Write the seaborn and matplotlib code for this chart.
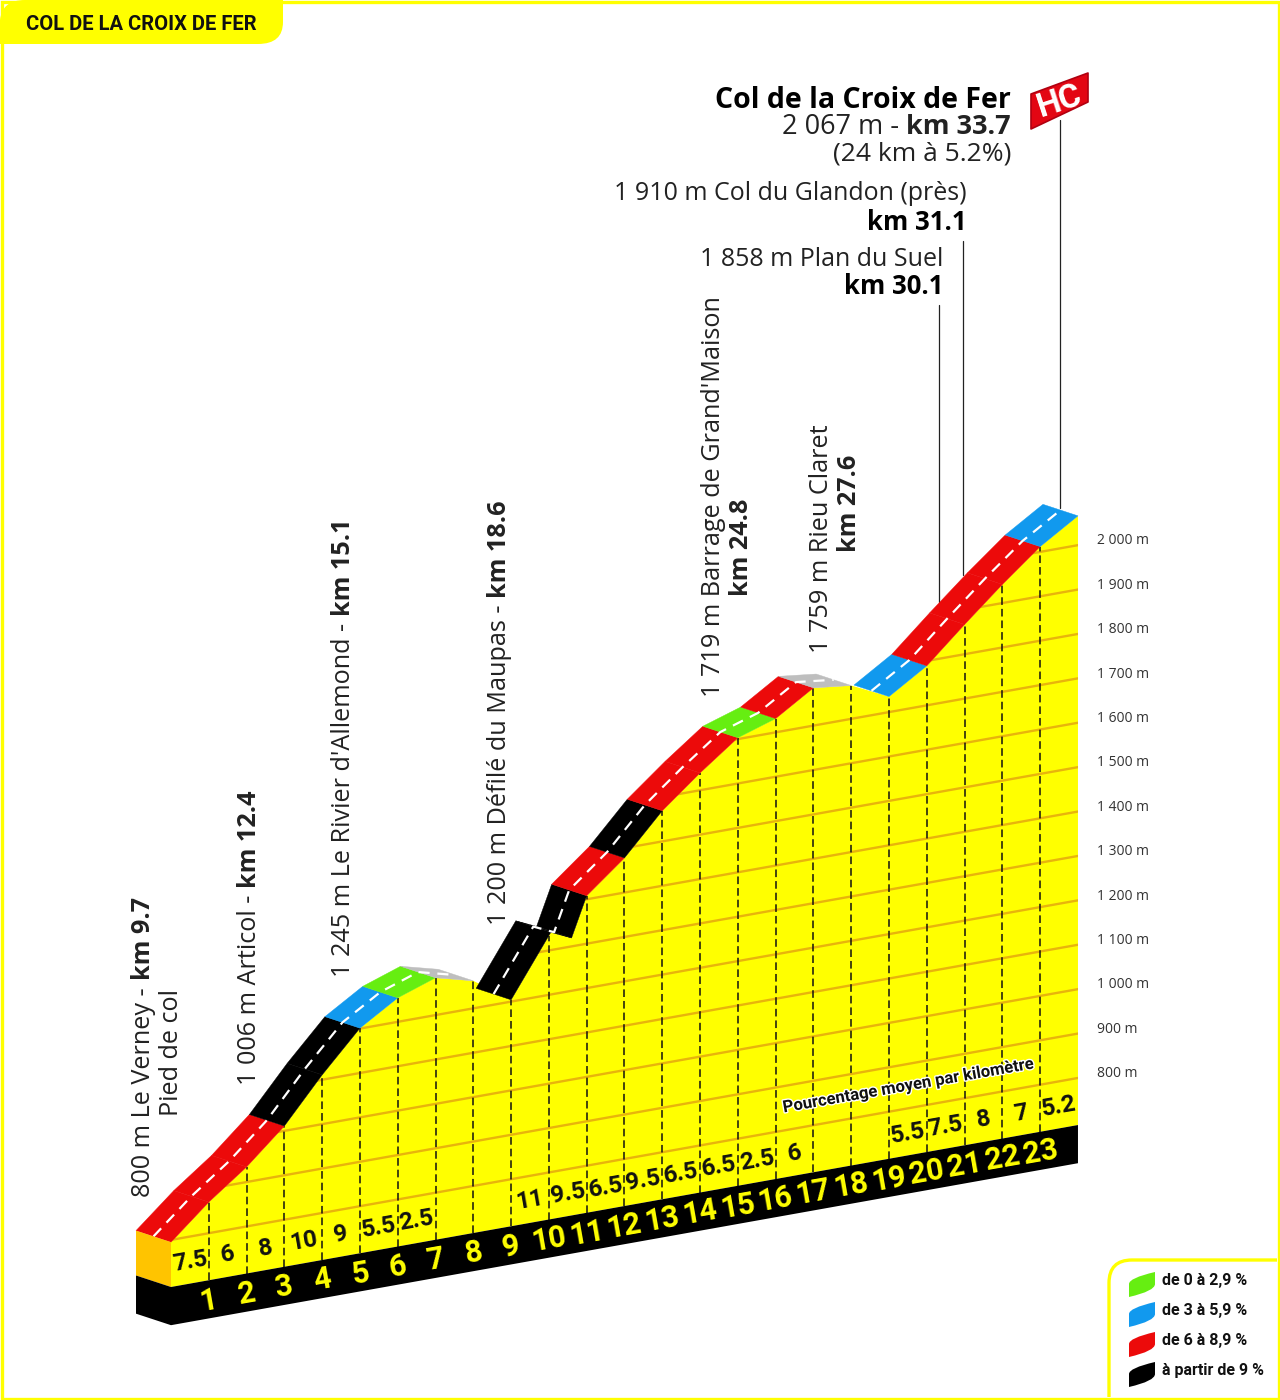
import numpy as np
import pandas as pd
import matplotlib
matplotlib.use("Agg")
import matplotlib.pyplot as plt
import matplotlib.patheffects as pe
from matplotlib.patches import PathPatch, Polygon, Rectangle
from matplotlib.path import Path
from matplotlib.transforms import Affine2D
import seaborn as sns

# Climb profile, km from the foot of the col and altitude
profile_km = [0, 1, 2, 3, 4, 5, 6, 7, 8, 9, 10.05, 10.6, 11, 12, 13, 14, 15, 16, 17, 18, 19, 20, 21, 22, 23, 24]
profile_alt = [795, 870, 934, 1011, 1111, 1201, 1254, 1284, 1262, 1204, 1340, 1319, 1408, 1478, 1569, 1639,
               1703, 1731, 1785, 1775, 1735, 1789, 1867, 1942, 2012, 2066]
# Road colour of each stretch, None where the road drops out of sight
road_class = ["red", "red", "red", "black", "black", "blue", "green", "grey", None, "black", "black", "black",
              "red", "black", "red", "red", "green", "red", "grey", None, "blue", "red", "red", "red", "blue"]

km_marks = list(range(1, 24))
km_labels = [str(k) for k in km_marks]
km_pct = ["7.5", "6", "8", "10", "9", "5.5", "2.5", "", "", "11", "9.5", "6.5", "9.5", "6.5", "6.5", "2.5", "6",
          "", "", "5.5", "7.5", "8", "7", "5.2"]
alt_levels = list(range(800, 2100, 100))
alt_labels = ["800 m", "900 m"] + [f"{a // 1000} {a % 1000:03d} m" for a in alt_levels[2:]]

legend_labels = ["de 0 à 2,9 %", "de 3 à 5,9 %", "de 6 à 8,9 %", "à partir de 9 %"]
legend_classes = ["green", "blue", "red", "black"]

ROAD = {"red": "#EC0A0A", "black": "#000000", "blue": "#1199EE", "green": "#66EE11", "grey": "#BEBEBE"}
YELLOW = "#FFFF00"
GRID = "#E8B40C"
BOLD = ["Roboto", "DejaVu Sans"]

sns.set_theme(style="white")
plt.rcParams["font.family"] = ["Open Sans", "DejaVu Sans"]

# the profile is drawn on a slant: every km lifts the ground by this many metres
TILT = 15.2
BASE = 694
BAND = 86
ROAD_DKM, ROAD_DALT = -0.926, 40


def tilted(km, alt):
    return np.asarray(alt, dtype=float) + TILT * np.asarray(km, dtype=float)


fig = plt.figure(figsize=(12.8, 14), dpi=100, facecolor="white")
ax = fig.add_axes([0, 0, 1, 1])
ax.set_xlim(-4.525, 29.346)
ax.set_ylim(439.5, 3592.6)
# reference pixels (y down) for the page furniture
page = Affine2D().scale(1, -1).translate(0, 1400)

km = np.array(profile_km, dtype=float)
alt = np.array(profile_alt, dtype=float)

# yellow body of the mountain
body = Polygon(np.column_stack([np.r_[km, 24, 0], np.r_[tilted(km, alt), tilted(24, BASE), tilted(0, BASE)]]),
               closed=True, facecolor=YELLOW, edgecolor="none", zorder=1)
ax.add_patch(body)

# altitude lines, clipped to the body
grid_df = pd.DataFrame({
    "km": [0, 24] * len(alt_levels),
    "level": np.repeat(alt_levels, 2),
})
grid_df["shown"] = tilted(grid_df["km"], grid_df["level"])
sns.lineplot(data=grid_df, x="km", y="shown", units="level", estimator=None, color=GRID, linewidth=1.7,
             legend=False, ax=ax, zorder=2)
for line in ax.lines:
    line.set_clip_path(body)

# dashed km marks
marks_df = pd.DataFrame({
    "km": np.repeat(km_marks, 2),
    "shown": np.column_stack([tilted(km_marks, [BASE] * len(km_marks)),
                              tilted(km_marks, np.interp(km_marks, km, alt))]).ravel(),
})
sns.lineplot(data=marks_df, x="km", y="shown", units="km", estimator=None, color="#111111", linewidth=1.1,
             linestyle=(0, (5, 2.6)), legend=False, ax=ax, zorder=3)

# road stretches
for i, cls in enumerate(road_class):
    if cls is None:
        continue
    k0, k1, a0, a1 = km[i], km[i + 1], alt[i], alt[i + 1]
    pts = np.array([[k0, tilted(k0, a0)], [k1, tilted(k1, a1)],
                    [k1 + ROAD_DKM, tilted(k1 + ROAD_DKM, a1 + ROAD_DALT)],
                    [k0 + ROAD_DKM, tilted(k0 + ROAD_DKM, a0 + ROAD_DALT)]])
    ax.add_patch(Polygon(pts, closed=True, facecolor=ROAD[cls], edgecolor=ROAD[cls], linewidth=0.3, zorder=4))

# white centre line, broken where the road is hidden
centre_rows = []
run = 0
for i, cls in enumerate(road_class):
    if cls is None:
        run += 1
        continue
    for j in (i, i + 1):
        centre_rows.append((run, j, km[j] + ROAD_DKM / 2, tilted(km[j] + ROAD_DKM / 2, alt[j] + ROAD_DALT / 2)))
centre_df = pd.DataFrame(centre_rows, columns=["run", "order", "km", "shown"]).drop_duplicates(["run", "order"])
sns.lineplot(data=centre_df, x="km", y="shown", units="run", estimator=None, sort=False, color="white",
             linewidth=1.6, linestyle=(0, (5, 3.5)), legend=False, ax=ax, zorder=5)

# black band under the profile and the left face of the block
band = [[0, tilted(0, BASE)], [24, tilted(24, BASE)], [24, tilted(24, BASE - BAND)], [0, tilted(0, BASE - BAND)]]
ax.add_patch(Polygon(band, closed=True, facecolor="black", edgecolor="none", zorder=6))
face_top = [[0, tilted(0, alt[0])], [0, tilted(0, BASE)], [ROAD_DKM, tilted(ROAD_DKM, BASE + ROAD_DALT)],
            [ROAD_DKM, tilted(ROAD_DKM, alt[0] + ROAD_DALT)]]
ax.add_patch(Polygon(face_top, closed=True, facecolor="#FFC400", edgecolor="none", zorder=6))
face_low = [[0, tilted(0, BASE)], [0, tilted(0, BASE - BAND)], [ROAD_DKM, tilted(ROAD_DKM, BASE - BAND + ROAD_DALT)],
            [ROAD_DKM, tilted(ROAD_DKM, BASE + ROAD_DALT)]]
ax.add_patch(Polygon(face_low, closed=True, facecolor="black", edgecolor="none", zorder=6))

# km numbers and percentages
for k, lab in zip(km_marks, km_labels):
    ax.text(k, tilted(k, BASE - 45), lab, color=YELLOW, family=BOLD, weight="bold", fontsize=22,
            rotation=10, ha="center", va="center", rotation_mode="anchor", zorder=7)
for i, lab in enumerate(km_pct):
    if lab:
        ax.text(i + 0.5, tilted(i + 0.5, BASE + 50), lab, color="#111111", family=BOLD, weight="bold", fontsize=17.5,
                rotation=10, ha="center", va="center", rotation_mode="anchor", zorder=7)
ax.text(908, 1086, "Pourcentage moyen par kilomètre", transform=page, color="#111111", family=BOLD, weight="bold",
        fontsize=12, rotation=10, ha="center", va="center", rotation_mode="anchor", zorder=7,
        path_effects=[pe.withStroke(linewidth=2, foreground="white")])

# altitude scale on the right
for a, lab in zip(alt_levels, alt_labels):
    ax.text(24.5, tilted(24.5, a) + 2, lab, color="#333333", fontsize=10, ha="left", va="center", zorder=7)


def vertical(x, y, pieces):
    """Stack (text, weight) pieces upwards from pixel (x, y), centred on x."""
    renderer = fig.canvas.get_renderer()
    for s, weight in pieces:
        t = ax.text(x, y, s, transform=page, fontsize=18.2, weight=weight, color="#222222", rotation=90,
                    rotation_mode="anchor", ha="left", va="center", zorder=7)
        y -= t.get_window_extent(renderer).height + 7


vertical(143, 1197, [("800 m Le Verney -", "normal"), ("km 9.7", "bold")])
vertical(171, 1116, [("Pied de col", "normal")])
vertical(249, 1085, [("1 006 m Articol -", "normal"), ("km 12.4", "bold")])
vertical(343, 977, [("1 245 m Le Rivier d'Allemond -", "normal"), ("km 15.1", "bold")])
vertical(499, 925, [("1 200 m Défilé du Maupas -", "normal"), ("km 18.6", "bold")])
vertical(713, 697, [("1 719 m Barrage de Grand'Maison", "normal")])
vertical(742, 596, [("km 24.8", "bold")])
vertical(821, 653, [("1 759 m Rieu Claret", "normal")])
vertical(849, 552, [("km 27.6", "bold")])

# summit block, right aligned
renderer = fig.canvas.get_renderer()
ax.text(1011, 100, "Col de la Croix de Fer", transform=page, fontsize=20.5, weight="bold", color="black",
        ha="right", va="center")
t = ax.text(1011, 127, "km 33.7", transform=page, fontsize=19.5, weight="bold", color="#222222", ha="right", va="center")
ax.text(1011 - t.get_window_extent(renderer).width - 7, 127, "2 067 m -", transform=page, fontsize=19.5,
        color="#222222", ha="right", va="center")
ax.text(1011, 154, "(24 km à 5.2%)", transform=page, fontsize=19, color="#222222", ha="right", va="center")
ax.text(967, 194, "1 910 m Col du Glandon (près)", transform=page, fontsize=18, color="#222222", ha="right", va="center")
ax.text(967, 222, "km 31.1", transform=page, fontsize=18.5, weight="bold", color="black", ha="right", va="center")
ax.text(943, 259, "1 858 m Plan du Suel", transform=page, fontsize=18, color="#222222", ha="right", va="center")
ax.text(943, 286, "km 30.1", transform=page, fontsize=18.5, weight="bold", color="black", ha="right", va="center")

# leader lines
for x, y0, y1 in [(939, 305, 602), (963, 241, 575), (1060, 120, 508)]:
    ax.plot([x, x], [y0, y1], transform=page, color="#222222", linewidth=0.9, zorder=3.5)

# HC flag
flag = Polygon([[1031, 94], [1088, 73], [1088, 102], [1031, 129]], closed=True, transform=page, facecolor="#E30613",
               edgecolor="#B00010", linewidth=1.2, joinstyle="round", zorder=8)
ax.add_patch(flag)
ax.text(1060, 101, "HC", transform=page, color="white", family=BOLD, weight="bold", fontsize=24, rotation=18,
        ha="center", va="center", rotation_mode="anchor", zorder=9)

# page frame, title tab and legend box
ax.add_patch(Rectangle((1.5, 1.5), 1277, 1397, transform=page, fill=False, edgecolor=YELLOW, linewidth=2.4, zorder=10))
tab = Path([(0, 44), (0, 20), (2, 0), (25, 0), (283, 0), (283, 22), (283, 44), (258, 44), (0, 44)],
           [Path.MOVETO, Path.LINETO, Path.CURVE3, Path.CURVE3, Path.LINETO, Path.LINETO, Path.CURVE3, Path.CURVE3,
            Path.CLOSEPOLY])
ax.add_patch(PathPatch(tab, transform=page, facecolor=YELLOW, edgecolor="none", zorder=10))
ax.text(26, 24, "COL DE LA CROIX DE FER", transform=page, color="#111111", family=BOLD, weight="bold", fontsize=14.5,
        ha="left", va="center", zorder=11)
box = Path([(1277, 1260), (1132, 1260), (1109, 1260), (1109, 1283), (1109, 1397)],
           [Path.MOVETO, Path.LINETO, Path.CURVE3, Path.CURVE3, Path.LINETO])
ax.add_patch(PathPatch(box, transform=page, fill=False, edgecolor=YELLOW, linewidth=2.4, zorder=10))

for i, (cls, lab) in enumerate(zip(legend_classes, legend_labels)):
    y = 1272 + 30 * i
    leaf = Path([(1129, y + 25), (1129, y + 12), (1129, y + 6), (1155, y), (1155, y + 12), (1155, y + 19),
                 (1129, y + 25)],
                [Path.MOVETO, Path.LINETO, Path.CURVE3, Path.CURVE3, Path.LINETO, Path.CURVE3, Path.CURVE3])
    ax.add_patch(PathPatch(leaf, transform=page, facecolor=ROAD[cls], edgecolor="none", zorder=10))
    ax.text(1162, y + 8, lab, transform=page, color="#111111", family=BOLD, weight="bold", fontsize=11.5,
            ha="left", va="center", zorder=11)

ax.set_xlim(-4.525, 29.346)
ax.set_ylim(439.5, 3592.6)
ax.set_axis_off()
fig.savefig("out.png", dpi=100, facecolor="white")
